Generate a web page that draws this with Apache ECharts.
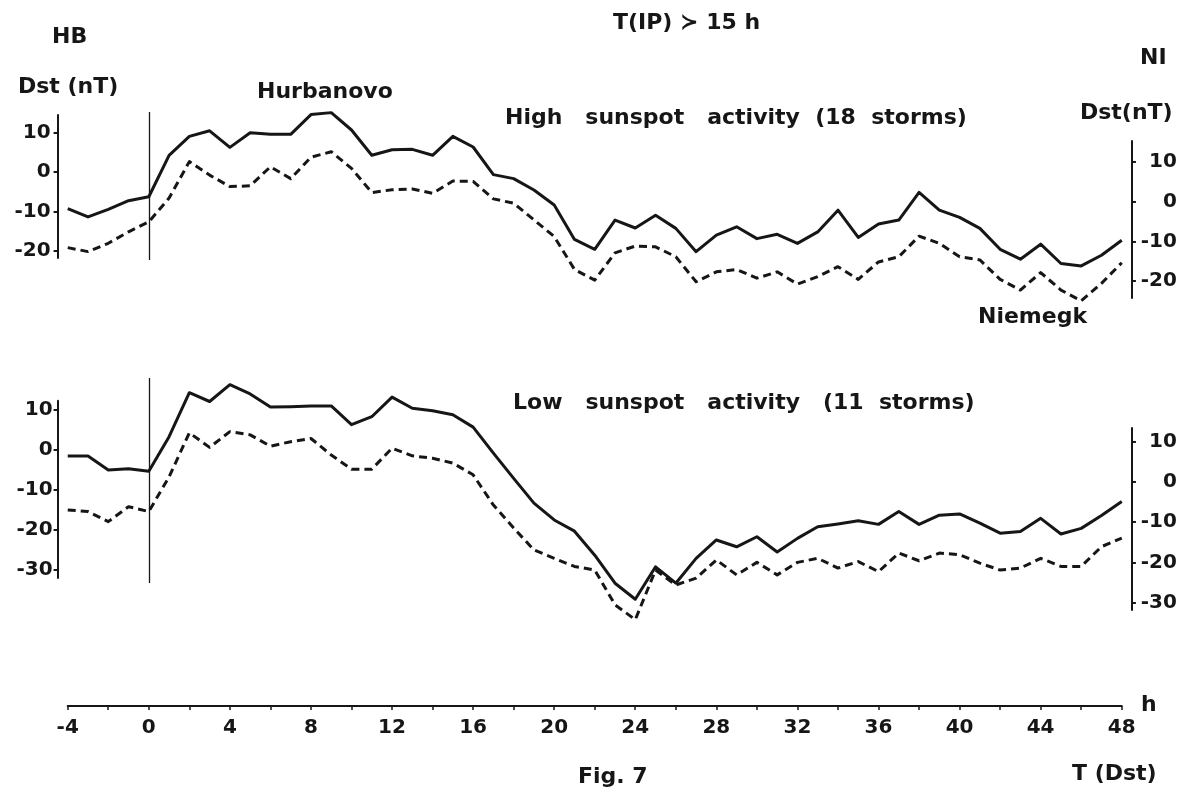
<!DOCTYPE html>
<html>
<head>
<meta charset="utf-8">
<script src="https://cdn.jsdelivr.net/npm/echarts@6/dist/echarts.min.js"></script>
<style>
  html, body { margin: 0; padding: 0; background: #fff; }
  #main { width: 1189px; height: 794px; }
</style>
</head>
<body>
<div id="main"></div>
<script>
// hours relative to T(Dst)
const hours = [-4, -3, -2, -1, 0, 1, 2, 3, 4, 5, 6, 7, 8, 9, 10, 11, 12, 13, 14, 15, 16, 17, 18, 19, 20, 21, 22, 23, 24,
  25, 26, 27, 28, 29, 30, 31, 32, 33, 34, 35, 36, 37, 38, 39, 40, 41, 42, 43, 44, 45, 46, 47, 48]

// high sunspot activity (18 storms)
const hbHigh = [-9.3, -11.4, -9.5, -7.3, -6.3, 4.2, 9.0, 10.4, 6.2, 9.9, 9.5, 9.5, 14.5, 15.0, 10.6, 4.2, 5.6, 5.7, 4.2,
  9.0, 6.3, -0.7, -1.7, -4.6, -8.4, -17.1, -19.6, -12.2, -14.2, -11.0, -14.3, -20.2, -16.0, -13.9, -16.9, -15.8, -18.1,
  -15.2, -9.7, -16.6, -13.2, -12.2, -5.2, -9.7, -11.5, -14.3, -19.6, -22.1, -18.3, -23.2, -23.8, -21.1, -17.3]
const niHigh = [-11.6, -12.6, -10.5, -7.6, -5.1, 0.9, 10.1, 6.7, 3.8, 4.0, 8.8, 5.8, 11.2, 12.6, 8.4, 2.3, 3.0, 3.2, 2.1,
  5.2, 5.1, 0.7, -0.4, -4.6, -8.8, -17.1, -19.8, -12.9, -11.2, -11.4, -13.9, -20.2, -17.7, -17.1, -19.3, -17.7, -20.8,
  -18.9, -16.4, -19.6, -15.2, -13.9, -8.7, -10.5, -13.9, -14.7, -19.6, -22.3, -17.9, -22.3, -25.0, -20.6, -15.4]

// low sunspot activity (11 storms)
const hbLow = [-1.5, -1.5, -5.0, -4.7, -5.3, 3.3, 14.3, 12.1, 16.3, 14.0, 10.7, 10.8, 11.0, 11.0, 6.3, 8.3, 13.2, 10.4,
  9.8, 8.8, 5.7, -0.8, -7.1, -13.3, -17.5, -20.3, -26.3, -33.3, -37.3, -29.2, -33.3, -27.1, -22.5, -24.2, -21.7, -25.5,
  -22.1, -19.2, -18.5, -17.7, -18.6, -15.4, -18.6, -16.3, -16.0, -18.3, -20.8, -20.4, -17.1, -21.0, -19.6, -16.4, -12.9]
const niLow = [-7.0, -7.4, -9.9, -6.2, -7.4, 1.2, 12.1, 8.5, 12.4, 11.6, 8.8, 9.9, 10.7, 6.6, 3.1, 3.1, 8.3, 6.4, 5.8,
  4.6, 1.7, -5.8, -11.5, -16.9, -19.0, -21.0, -21.9, -30.5, -34.2, -21.9, -25.6, -23.9, -19.4, -23.1, -20.0, -23.1, -20.0,
  -19.0, -21.4, -19.8, -22.3, -17.7, -19.6, -17.7, -18.1, -20.2, -21.9, -21.4, -19.0, -21.0, -21.0, -16.1, -14.0]

// tick labels
const highTicks = [-20, -10, 0, 10]
const lowTicks = [-30, -20, -10, 0, 10]
const hourLabelStep = 4
const onsetHour = 0 // T(IP) marker line

const FONT = 'DejaVu Sans'
const INK = '#161616'

const myChart = echarts.init(document.getElementById('main'))

function pairs (vals) {
  return hours.map((h, i) => [h, vals[i]])
}

// y axis in the hand drawn style
function dstAxis (grid, side, min, max, ticks, margin) {
  return {
    type: 'value',
    gridIndex: grid,
    position: side,
    min: min,
    max: max,
    axisLine: { show: true, onZero: false, lineStyle: { color: INK, width: 2 } },
    axisTick: { show: true, length: 4, customValues: ticks, lineStyle: { color: INK, width: 2 } },
    axisLabel: {
      customValues: ticks,
      margin: margin,
      align: 'right',
      color: INK,
      fontFamily: FONT,
      fontWeight: 'bold',
      fontSize: 20
    },
    splitLine: { show: false }
  }
}

function hiddenX (grid) {
  return { type: 'value', gridIndex: grid, min: -4.5, max: 48.5, show: false }
}

function dstLine (name, xi, yi, vals, dashed) {
  return {
    name: name,
    type: 'line',
    xAxisIndex: xi,
    yAxisIndex: yi,
    data: pairs(vals),
    symbol: 'none',
    clip: false,
    lineStyle: { color: INK, width: 3, type: dashed ? [8, 5] : 'solid', join: 'round' },
    z: 3
  }
}

// thin vertical line at the storm onset, spanning its own grid
function onsetLine (gi) {
  return {
    type: 'line',
    xAxisIndex: gi,
    yAxisIndex: gi,
    data: [],
    markLine: {
      silent: true,
      symbol: 'none',
      label: { show: false },
      lineStyle: { color: INK, width: 1.3, type: 'solid' },
      data: [{ xAxis: onsetHour }]
    }
  }
}

function txt (text, x, y, size) {
  return {
    type: 'text',
    x: x,
    y: y,
    style: {
      text: text,
      fill: INK,
      font: 'bold ' + (size || 22) + 'px "' + FONT + '"',
      textVerticalAlign: 'middle'
    }
  }
}

const option = {
  backgroundColor: '#fff',
  animation: false,
  grid: [
    { left: 57.6, right: 57.1, top: 115, height: 143 }, // HB high
    { left: 57.6, right: 57.1, top: 141, height: 157 }, // NI high
    { left: 57.6, right: 57.1, top: 400.7, height: 177.3 }, // HB low
    { left: 57.6, right: 57.1, top: 428, height: 182 }, // NI low
    { left: 67.7, right: 67.3, top: 700, height: 6 }, // time axis
    { left: 57.6, right: 57.1, top: 112, height: 148 }, // onset line, upper
    { left: 57.6, right: 57.1, top: 378, height: 205 } // onset line, lower
  ],
  xAxis: [
    hiddenX(0), hiddenX(1), hiddenX(2), hiddenX(3),
    {
      type: 'value',
      gridIndex: 4,
      min: -4,
      max: 48,
      interval: 2,
      axisLine: { onZero: false, lineStyle: { color: INK, width: 2 } },
      axisTick: { length: 4, lineStyle: { color: INK, width: 1.5 } },
      axisLabel: {
        margin: 12,
        color: INK,
        fontFamily: FONT,
        fontWeight: 'bold',
        fontSize: 20,
        formatter: v => (v % hourLabelStep === 0 ? String(v) : '')
      },
      splitLine: { show: false }
    },
    hiddenX(5), hiddenX(6)
  ],
  yAxis: [
    dstAxis(0, 'left', -21.8, 14.4, highTicks, 7),
    dstAxis(1, 'right', -24.3, 15.3, highTicks, 45),
    dstAxis(2, 'left', -32, 12.3, lowTicks, 5),
    dstAxis(3, 'right', -31.8, 13.3, lowTicks, 45),
    { type: 'value', gridIndex: 4, min: 0, max: 1, show: false },
    { type: 'value', gridIndex: 5, min: 0, max: 1, show: false },
    { type: 'value', gridIndex: 6, min: 0, max: 1, show: false }
  ],
  series: [
    onsetLine(5),
    onsetLine(6),
    dstLine('Hurbanovo high', 0, 0, hbHigh, false),
    dstLine('Niemegk high', 1, 1, niHigh, true),
    dstLine('Hurbanovo low', 2, 2, hbLow, false),
    dstLine('Niemegk low', 3, 3, niLow, true)
  ],
  graphic: [
    txt('T(IP) \u227B 15 h', 613, 23),
    txt('HB', 52, 37),
    txt('Dst (nT)', 18, 87),
    txt('Hurbanovo', 257, 92),
    txt('High   sunspot   activity  (18  storms)', 505, 118),
    txt('NI', 1140, 58),
    txt('Dst(nT)', 1080, 113),
    txt('Niemegk', 978, 317),
    txt('Low   sunspot   activity   (11  storms)', 513, 403),
    txt('h', 1141, 705),
    txt('Fig. 7', 578, 777),
    txt('T (Dst)', 1072, 774)
  ]
}

myChart.setOption(option)
</script>
</body>
</html>
